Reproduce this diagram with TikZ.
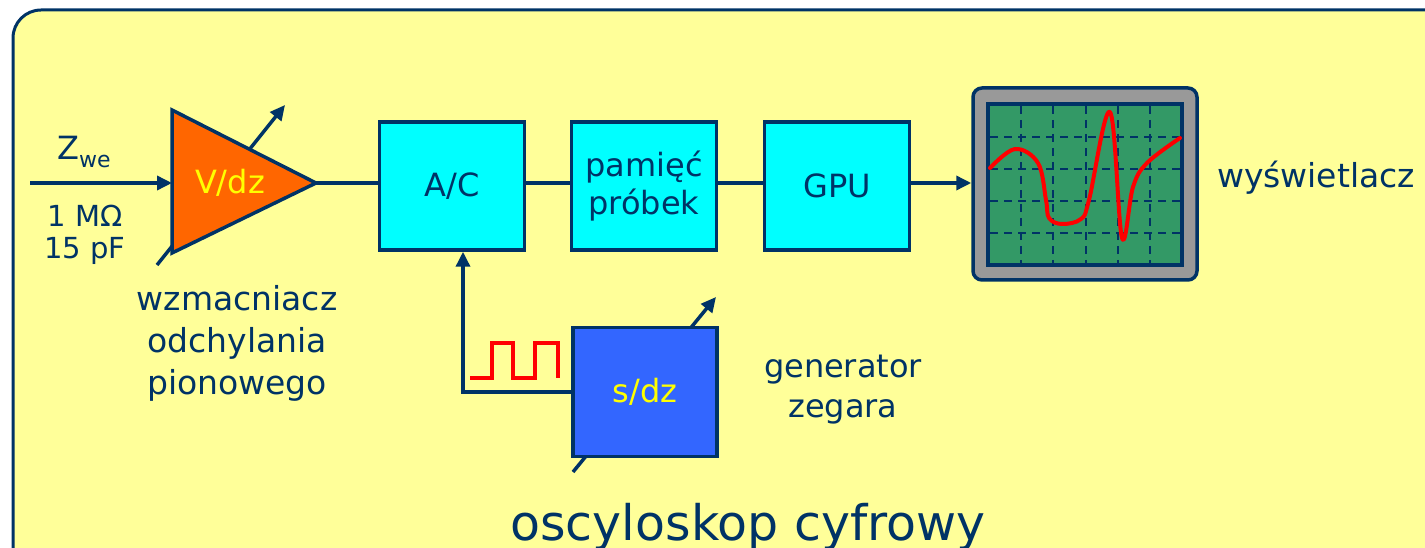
\documentclass[tikz,border=0pt]{standalone}
\usepackage{fontspec}
\setmainfont{DejaVu Sans}
\usetikzlibrary{arrows.meta, positioning, calc}
\definecolor{navy}{HTML}{003366}
\definecolor{paper}{HTML}{FFFF99}
\definecolor{aqua}{HTML}{00FFFF}
\definecolor{ampfill}{HTML}{FF6600}
\definecolor{genfill}{HTML}{3366FF}
\definecolor{crt}{HTML}{339966}
\definecolor{bezel}{HTML}{999999}
\definecolor{yel}{HTML}{FFFF00}

\begin{document}
\begin{tikzpicture}[x=1pt, y=-1pt, line width=3.5pt,
    every node/.style={text=navy, inner sep=0pt, font=\fontsize{32}{38}\selectfont},
    block/.style={rectangle, draw=navy, fill=aqua, minimum width=145pt, minimum height=128pt, align=center},
    wire/.style={draw=navy, line width=3.5pt},
    arr/.style={wire, -{Triangle[length=15pt, width=14pt]}},
    gridline/.style={draw=navy, line width=2.3pt, dash pattern=on 8pt off 6pt},
    trace/.style={draw=red, line width=4pt}]
    \useasboundingbox (0,0) rectangle (1425,548);
    \clip (0,0) rectangle (1425,548);
    % panel
    \draw[navy, fill=paper, line width=3pt, rounded corners=28pt] (13,10) rectangle (1470,590);

    % tuning arrows (drawn first, the shapes cover them)
    \draw[arr] (157,265) -- (285,105);
    \draw[arr] (573,472) -- (716,297);

    % amplifier
    \filldraw[draw=navy, fill=ampfill, line join=miter] (172,110) -- (316,183) -- (172,253) -- cycle;
    \coordinate (ampin) at (172,183);
    \coordinate (ampout) at (316,183);
    \node[text=yel] (vdz) at (230,183) {V/dz};

    % chain of blocks
    \node[block] (ac) at (452,186) {A/C};
    \node[block] (mem) at (644,186) {pamięć\\próbek};
    \node[block] (gpu) at (837,186) {GPU};
    \node[block, fill=genfill, minimum width=144pt, minimum height=129pt, text=yel] (gen) at (645,392) {s/dz};

    % display
    \node[draw=navy, fill=bezel, rounded corners=9pt, minimum width=224pt, minimum height=192pt] (disp) at (1085,184) {};
    \node[draw=navy, fill=crt, minimum width=194pt, minimum height=161pt] (scr) at (1085,184.5) {};
    \foreach \gx in {1021,1053,1086,1118,1150}
        \draw[gridline] (\gx,106) -- (\gx,263);
    \foreach \gy in {137,169,201,233}
        \draw[gridline] (990,\gy) -- (1180,\gy);
    \draw[trace, line join=round, line cap=round] plot[smooth, tension=0.6] coordinates {
        (990,168) (1015,149) (1038,163) (1046,200) (1049,218) (1062,224)
        (1081,219) (1089,200) (1110,112) (1122,238) (1133,187) (1147,163) (1180,138)};

    % connectors
    \coordinate (zin) at (30,183);
    \draw[arr] (zin) -- (ampin);
    \draw[wire] (ampout) -- (ac.west |- ampout);
    \draw[wire] (ac.east |- ampout) -- (mem.west |- ampout);
    \draw[wire] (mem.east |- ampout) -- (gpu.west |- ampout);
    \draw[arr] (gpu.east |- ampout) -- (disp.west |- ampout);
    \draw[arr] (gen.west) -| ([xshift=11pt]ac.south);

    % clock waveform
    \draw[trace] (470,378) -- (492,378) -- (492,343) -- (513,343) -- (513,378)
        -- (535,378) -- (535,343) -- (558,343) -- (558,378);

    % labels
    \node (zwe) at (84,152) {Z\raisebox{-0.5ex}{\fontsize{22}{22}\selectfont we}};
    \node[align=center, font=\fontsize{29}{32}\selectfont] (imp) at (85,235) {1 MΩ\\15 pF};
    \node[align=center, font=\fontsize{33}{42}\selectfont] (ampname) at (237,343) {wzmacniacz\\odchylania\\pionowego};
    \node[align=center, font=\fontsize{32}{40}\selectfont] (genname) at (843,390) {generator\\zegara};
    \node[anchor=base, font=\fontsize{33}{36}\selectfont] (dispname) at (1316,188) {wyświetlacz};
    \node[anchor=base, font=\fontsize{49}{56}\selectfont] (title) at (748,540) {oscyloskop cyfrowy};
\end{tikzpicture}
\end{document}
